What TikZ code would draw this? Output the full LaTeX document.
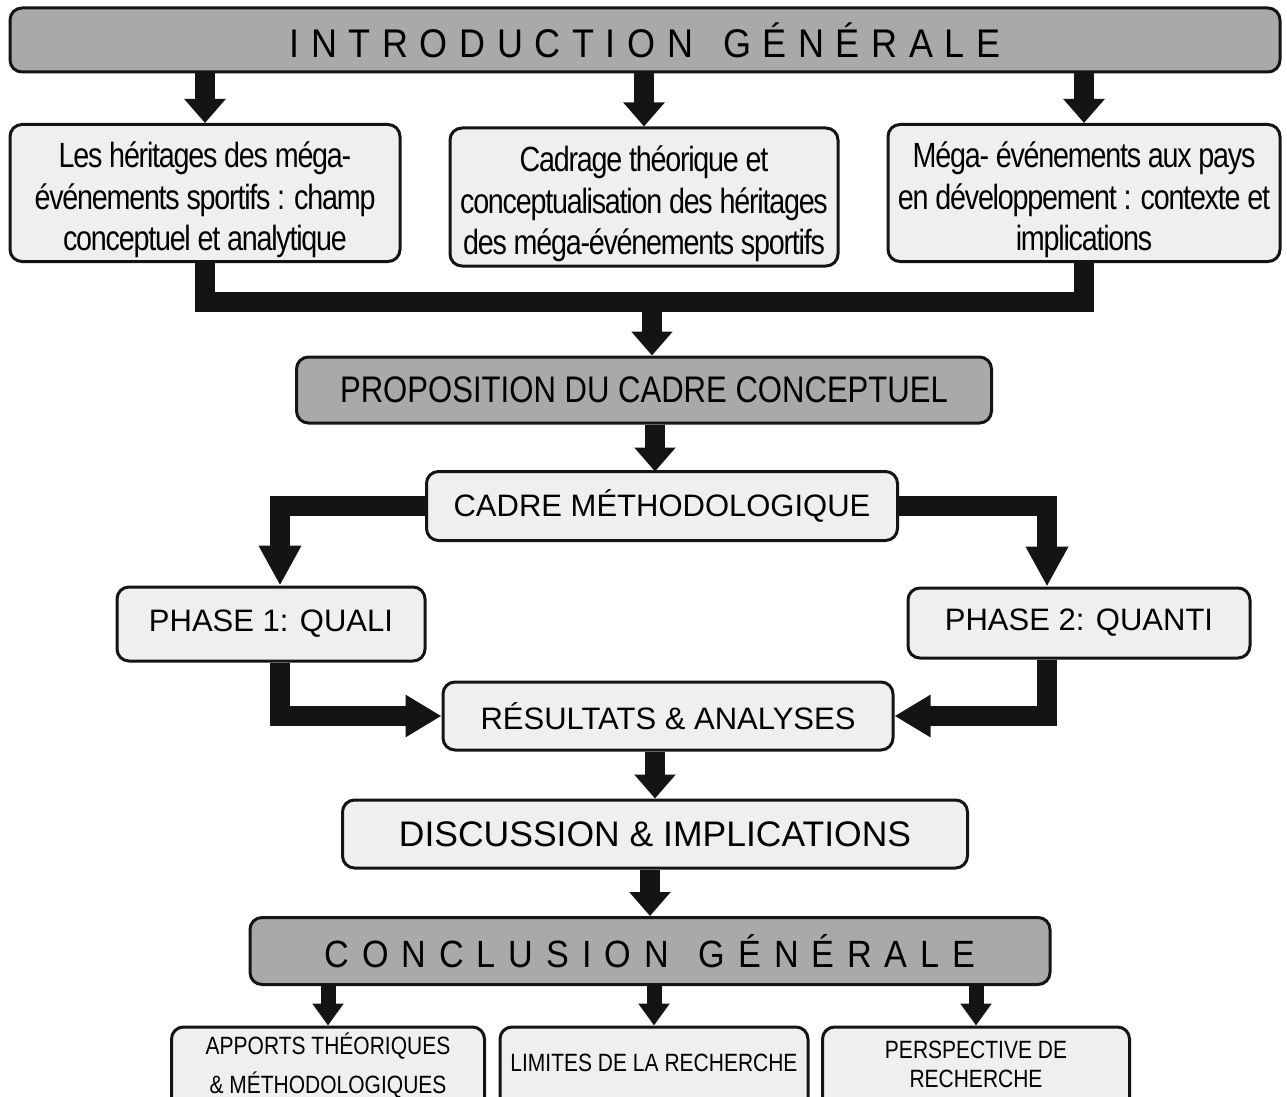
\documentclass[tikz,border=0pt]{standalone}
\usepackage{fontspec}
\setmainfont{Liberation Sans}
\newfontfamily\narrowfont[FakeStretch=0.82,LetterSpace=-3.5]{Liberation Sans}
\newfontfamily\slimfont[FakeStretch=0.84]{Liberation Sans}
\newfontfamily\widefont[FakeStretch=0.9,LetterSpace=29]{Liberation Sans}
\newfontfamily\widerfont[FakeStretch=0.9,LetterSpace=34]{Liberation Sans}
\usepackage{xcolor}
\usetikzlibrary{arrows.meta,positioning,calc}

\definecolor{boxfill}{HTML}{EFEFEF}
\definecolor{titlefill}{HTML}{A9A9A9}
\definecolor{flowink}{HTML}{141414}

\tikzset{
    box/.style={draw=flowink, line width=3pt, rounded corners=12pt, fill=boxfill,
                align=center, inner sep=0pt},
    titlebox/.style={box, fill=titlefill},
    litbox/.style={box, font=\fontsize{35}{41.5}\selectfont\narrowfont},
    capbox/.style={box, font=\fontsize{31}{37}\selectfont},
    endbox/.style={box, minimum width=308},
    flow/.style={draw=flowink, line width=20pt,
                 -{Triangle[width=40pt,length=24pt]}},
    longflow/.style={flow, -{Triangle[width=40pt,length=40pt]}},
    smallflow/.style={draw=flowink, line width=15pt,
                 -{Triangle[width=30pt,length=22pt]}},
    bar/.style={draw=flowink, line width=20pt, miter limit=10},
}
\newcommand{\wordgap}{\hspace{30pt}}
\newcommand{\topgap}{\rule{0pt}{40pt}}

\begin{document}
\begin{tikzpicture}[x=1pt, y=-1pt]
    \useasboundingbox (0,0) rectangle (1287,1097);

    % Introduction
    \node[titlebox, minimum width=1270, minimum height=64,
          font=\fontsize{40}{48}\selectfont\widefont] (intro) at (645,40)
        {INTRODUCTION\wordgap GÉNÉRALE};

    % Chapitres theoriques
    \node[litbox, minimum width=390, minimum height=137] (lit1) at (205,193)
        {\topgap Les héritages des méga-\\événements sportifs : champ\\conceptuel et analytique};
    \node[litbox, minimum width=388, minimum height=138] (lit2) at (644,197)
        {\topgap Cadrage théorique et\\conceptualisation des héritages\\des méga-événements sportifs};
    \node[litbox, minimum width=392, minimum height=137] (lit3) at (1084,193)
        {\topgap Méga- événements aux pays\\en développement : contexte et\\implications};

    \foreach \n in {lit1,lit2,lit3}
        \draw[flow] (intro.south -| \n.north) -- (\n.north);

    % Cadre conceptuel
    \coordinate (join) at (652,302);
    \draw[bar] (lit1.south) |- (join) -| (lit3.south);
    \node[titlebox, minimum width=695, minimum height=66,
          font=\fontsize{37}{44}\selectfont\slimfont] (prop) at (644,390)
        {PROPOSITION DU CADRE CONCEPTUEL};
    \draw[flow] ($(join)+(0,-10)$) -- (join |- prop.north);

    % Methodologie
    \node[capbox, minimum width=471, minimum height=69] (meth) at (662,506)
        {CADRE MÉTHODOLOGIQUE};
    \draw[flow] (prop.south -| meth.north) ++(-7,0) -- ++(0,47);

    \node[capbox, minimum width=308, minimum height=74] (quali) at (271,624)
        {PHASE 1: QUALI};
    \node[capbox, minimum width=342, minimum height=70] (quanti) at (1079,623)
        {PHASE 2: QUANTI};
    \node[capbox, minimum width=450, minimum height=68] (res) at (668,716)
        {RÉSULTATS \& ANALYSES};

    \draw[longflow] (meth.west) -| ($(quali.north)+(9,0)$);
    \draw[longflow] (meth.east) -| ($(quanti.north)+(-32,0)$);
    \draw[flow, -{Triangle[width=40pt,length=36pt]}] ($(quali.south)+(9,0)$) |- (res.west);
    \draw[flow, -{Triangle[width=40pt,length=36pt]}] ($(quanti.south)+(-32,0)$) |- (res.east);

    % Discussion et conclusion
    \node[capbox, minimum width=625, minimum height=68,
          font=\fontsize{35.5}{42}\selectfont] (disc) at (655,834)
        {DISCUSSION \& IMPLICATIONS};
    \node[titlebox, minimum width=800, minimum height=67,
          font=\fontsize{38}{46}\selectfont\widerfont] (concl) at (650,951)
        {CONCLUSION\wordgap GÉNÉRALE};
    \draw[flow] (res.south -| disc.north) -- (disc.north);
    \draw[flow] (disc.south -| concl.north) -- (concl.north);

    % Apports
    \node[endbox, minimum width=313, minimum height=123,
          font=\fontsize{25}{39}\selectfont\slimfont] (app) at (328,1088.5)
        {APPORTS THÉORIQUES\\\& MÉTHODOLOGIQUES\\[12pt]};
    \node[endbox, minimum height=126,
          font=\fontsize{25}{30}\selectfont\slimfont] (lim) at (654,1090)
        {LIMITES DE LA RECHERCHE\\[24pt]};
    \node[endbox, minimum width=307, minimum height=119,
          font=\fontsize{25}{29}\selectfont\slimfont] (persp) at (976,1086.5)
        {PERSPECTIVE DE\\RECHERCHE\\[16pt]};
    \foreach \n in {app,lim,persp}
        \draw[smallflow] (concl.south -| \n.north) -- (\n.north);
\end{tikzpicture}
\end{document}
